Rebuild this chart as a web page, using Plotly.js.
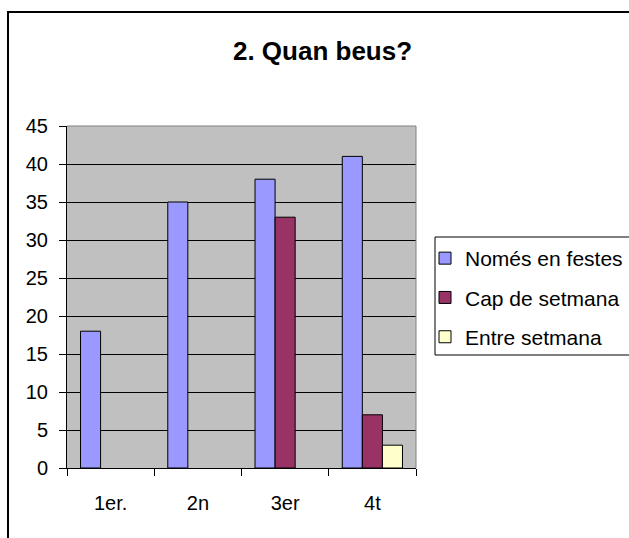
<!DOCTYPE html>
<html>
<head>
<meta charset="utf-8">
<script src="https://cdn.plot.ly/plotly-3.0.1.min.js"></script>
<style>
html,body{margin:0;padding:0;background:#fff;}
#chart{width:629px;height:538px;}
</style>
</head>
<body>
<div id="chart"></div>
<script>
const categories = ["1er.", "2n", "3er", "4t"];
const seriesNames = ["Només en festes", "Cap de setmana", "Entre setmana"];
const nomesEnFestes = [18, 35, 38, 41];
const capDeSetmana = [null, null, 33, 7];
const entreSetmana = [null, null, null, 3];
const yTicks = [0, 5, 10, 15, 20, 25, 30, 35, 40, 45];
const colors = ["#9999FF", "#993366", "#FFFFCC"];

const seriesValues = [nomesEnFestes, capDeSetmana, entreSetmana];
const traces = seriesValues.map((vals, i) => ({
  type: "bar",
  name: seriesNames[i],
  x: categories,
  y: vals,
  legendgroup: "g" + i,
  marker: {color: colors[i], line: {color: "#000000", width: 1}},
  hoverinfo: "x+y+name"
}));

// plot area pixel geometry helpers for paper coords
const L = 67, R = 416, T = 126, B = 468, W = 629, H = 538;
const px = v => (v - L) / (R - L);
const py = v => (B - v) / (B - T);

const font = "Liberation Sans, Arial, sans-serif";

const layout = {
  width: W, height: H,
  margin: {l: L, r: W - R, t: T, b: H - B, pad: 0, autoexpand: false},
  paper_bgcolor: "#ffffff",
  plot_bgcolor: "#C0C0C0",
  font: {family: font, size: 20, color: "#000"},
  barmode: "group",
  bargap: 0.31,
  bargroupgap: 0,
  title: {
    text: "<b>2. Quan beus?</b>",
    font: {family: font, size: 26, color: "#000"},
    xref: "container", yref: "container",
    x: 322.5 / W, xanchor: "center",
    y: 1 - 51 / H, yanchor: "middle"
  },
  xaxis: {
    type: "category",
    showgrid: false,
    showline: true, linecolor: "#000", linewidth: 1,
    ticks: "outside", ticklen: 7, tickcolor: "#000", tickwidth: 1,
    tickson: "boundaries",
    tickfont: {family: font, size: 20, color: "#000"},
    ticklabelstandoff: 17,
    zeroline: false, fixedrange: true
  },
  yaxis: {
    range: [0, 45],
    tickvals: yTicks,
    ticktext: yTicks.map(String),
    showgrid: true, gridcolor: "#000", gridwidth: 1,
    showline: true, linecolor: "#000", linewidth: 1,
    ticks: "outside", ticklen: 7, tickcolor: "#000", tickwidth: 1,
    tickfont: {family: font, size: 20, color: "#000"},
    ticklabelstandoff: 7,
    zeroline: false, fixedrange: true
  },
  legend: {
    x: px(425), xanchor: "left",
    y: py(238), yanchor: "top",
    bgcolor: "rgba(0,0,0,0)",
    borderwidth: 0,
    font: {family: font, size: 21, color: "#000"},
    traceorder: "grouped",
    tracegroupgap: 9
  },
  showlegend: true,
  shapes: [
    {type: "path", xref: "paper", yref: "paper", path: "M 0,1 L 1,1 L 1,0",
     line: {color: "#808080", width: 1}, layer: "above"},
    {type: "rect", xref: "paper", yref: "paper",
     x0: px(435), x1: px(650), y0: py(355), y1: py(237),
     line: {color: "#000", width: 1}, fillcolor: "rgba(0,0,0,0)", layer: "above"},
    {type: "rect", xref: "paper", yref: "paper",
     x0: px(8), x1: px(660), y0: py(560), y1: py(12),
     line: {color: "#000", width: 2}, fillcolor: "rgba(0,0,0,0)", layer: "above"}
  ]
};

Plotly.newPlot("chart", traces, layout, {displayModeBar: false, staticPlot: true});
</script>
</body>
</html>
